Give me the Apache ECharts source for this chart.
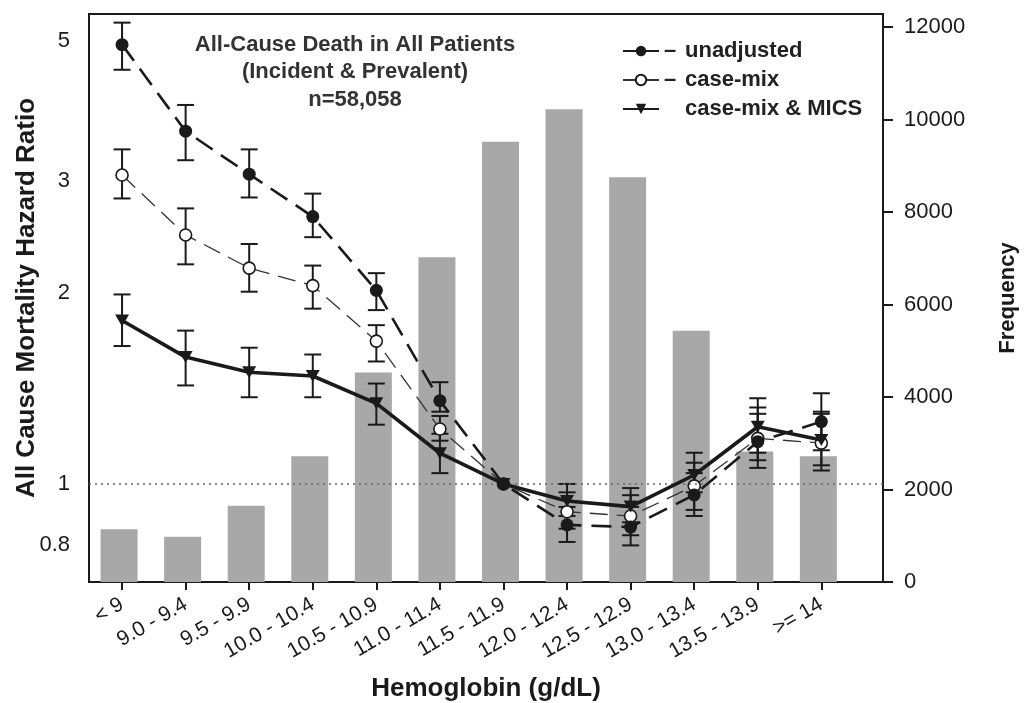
<!DOCTYPE html>
<html>
<head>
<meta charset="utf-8">
<script src="https://cdn.jsdelivr.net/npm/echarts@6/dist/echarts.min.js"></script>
<style>
  html, body { margin: 0; padding: 0; background: #fff; }
  #chart { width: 1027px; height: 703px; }
</style>
</head>
<body>
<div id="chart"></div>
<script>
// Hemoglobin groups (g/dL)
const categories = ['< 9', '9.0 - 9.4', '9.5 - 9.9', '10.0 - 10.4', '10.5 - 10.9', '11.0 - 11.4',
  '11.5 - 11.9', '12.0 - 12.4', '12.5 - 12.9', '13.0 - 13.4', '13.5 - 13.9', '>= 14'];

// Number of patients per group (right axis)
const frequency = [1140, 980, 1650, 2720, 4530, 7020, 9520, 10220, 8750, 5430, 2820, 2720];

// Hazard ratios with 95% confidence limits (11.5 - 11.9 is the reference group)
const unadjusted   = [4.93, 3.60, 3.08, 2.64, 2.02, 1.353, 1.00, 0.862, 0.855, 0.961, 1.166, 1.254];
const unadjustedLo = [4.50, 3.24, 2.83, 2.45, 1.88, 1.30, null, 0.81, 0.80, 0.89, 1.06, 1.13];
const unadjustedHi = [5.34, 3.96, 3.37, 2.87, 2.15, 1.447, null, 0.92, 0.92, 1.04, 1.29, 1.39];

const caseMix   = [3.07, 2.47, 2.19, 2.055, 1.68, 1.221, 1.00, 0.904, 0.890, 0.993, 1.18, 1.16];
const caseMixLo = [2.82, 2.22, 2.01, 1.89, 1.56, 1.17, null, 0.85, 0.83, 0.91, 1.09, 1.05];
const caseMixHi = [3.37, 2.72, 2.39, 2.21, 1.78, 1.28, null, 0.97, 0.96, 1.08, 1.32, 1.29];

const caseMixMics   = [1.81, 1.585, 1.50, 1.48, 1.34, 1.118, 1.00, 0.940, 0.921, 1.033, 1.231, 1.173];
const caseMixMicsLo = [1.65, 1.43, 1.37, 1.37, 1.24, 1.04, null, 0.89, 0.87, 0.97, 1.12, 1.07];
const caseMixMicsHi = [1.99, 1.745, 1.64, 1.60, 1.44, 1.20, null, 1.00, 0.985, 1.12, 1.365, 1.30];

// Axis tick labels
const hrTicks = [0.8, 1, 2, 3, 5];
const freqTicks = [0, 2000, 4000, 6000, 8000, 10000, 12000];

const FONT = '"Liberation Sans", Arial, Helvetica, sans-serif';
const INK = '#1a1a1a';

const idx = categories.map((_, i) => i);
const pairs = vals => vals.map((v, i) => [i, v]);

// Vertical confidence-interval whiskers with caps
function errorBars(name, lo, hi, z) {
  const data = [];
  lo.forEach((l, i) => { if (l != null) data.push([i, l, hi[i]]); });
  return {
    type: 'custom',
    name: name + ' CI',
    xAxisIndex: 0,
    yAxisIndex: 0,
    z: z,
    silent: true,
    encode: { x: 0, y: [1, 2] },
    data: data,
    renderItem(params, api) {
      const x = api.value(0);
      const a = api.coord([x, api.value(1)]);
      const b = api.coord([x, api.value(2)]);
      const w = 8.5;
      const st = { stroke: INK, lineWidth: 2 };
      return {
        type: 'group',
        children: [
          { type: 'line', shape: { x1: a[0], y1: a[1], x2: b[0], y2: b[1] }, style: st },
          { type: 'line', shape: { x1: a[0] - w, y1: a[1], x2: a[0] + w, y2: a[1] }, style: st },
          { type: 'line', shape: { x1: b[0] - w, y1: b[1], x2: b[0] + w, y2: b[1] }, style: st }
        ]
      };
    }
  };
}

const chart = echarts.init(document.getElementById('chart'), null, { renderer: 'canvas' });

chart.setOption({
  backgroundColor: '#fff',
  animation: false,
  textStyle: { fontFamily: FONT },
  title: {
    text: 'All-Cause Death in All Patients\n(Incident & Prevalent)\nn=58,058',
    left: 350,
    top: 26,
    textAlign: 'center',
    textStyle: { fontFamily: FONT, fontSize: 22, fontWeight: 'bold', color: '#333', lineHeight: 27.5 }
  },
  legend: {
    orient: 'vertical',
    left: 617,
    top: 35,
    itemGap: 7,
    itemWidth: 36,
    itemHeight: 13,
    selectedMode: false,
    data: [
      { name: 'unadjusted', lineStyle: { type: 'solid' } },
      { name: 'case-mix', lineStyle: { type: 'solid' } },
      { name: 'case-mix & MICS', lineStyle: { type: 'solid' } }
    ],
    formatter: name => (name === 'case-mix & MICS' ? '{g|}' : '{d|–}') + name,
    textStyle: {
      fontFamily: FONT, fontSize: 22, fontWeight: 'bold', color: '#222',
      rich: {
        d: { fontFamily: FONT, fontSize: 22, fontWeight: 'bold', color: '#222', width: 21 },
        g: { width: 21 }
      }
    }
  },
  grid: {
    left: 89, right: 144, top: 14, bottom: 121,
    outerBoundsMode: 'none',
    containLabel: false,
    show: true, borderColor: INK, borderWidth: 2, backgroundColor: 'transparent'
  },
  xAxis: [
    {
      type: 'value',
      min: -0.52,
      max: 11.97,
      name: 'Hemoglobin (g/dL)',
      nameLocation: 'middle',
      nameGap: 94,
      nameMoveOverlap: false,
      nameTextStyle: { fontFamily: FONT, fontSize: 26, fontWeight: 'bold', color: INK },
      splitLine: { show: false },
      axisLine: { show: true, onZero: false, lineStyle: { color: INK, width: 2 } },
      axisTick: { show: true, customValues: idx, length: 8, lineStyle: { color: INK, width: 2 } },
      axisLabel: {
        customValues: idx,
        formatter: v => categories[Math.round(v)],
        rotate: 30,
        margin: 21,
        fontFamily: FONT, fontSize: 21, color: INK
      }
    },
    {
      // frequency bars sit a few pixels left of the group ticks
      type: 'value',
      min: -0.473,
      max: 12.017,
      show: false,
      splitLine: { show: false }
    }
  ],
  yAxis: [
    {
      type: 'log',
      logBase: 10,
      min: 0.7004,
      max: 5.51,
      position: 'left',
      name: 'All Cause Mortality Hazard Ratio',
      nameLocation: 'middle',
      nameRotate: 90,
      nameGap: 49,
      nameMoveOverlap: false,
      nameTextStyle: { fontFamily: FONT, fontSize: 26, fontWeight: 'bold', color: INK },
      splitLine: { show: false },
      axisLine: { show: true, onZero: false, lineStyle: { color: INK, width: 2 } },
      axisTick: { show: false, customValues: hrTicks },
      axisLabel: {
        customValues: hrTicks,
        formatter: v => String(v),
        margin: 19,
        fontFamily: FONT, fontSize: 22, color: INK
      }
    },
    {
      type: 'value',
      min: 0,
      max: 12281,
      position: 'right',
      name: 'Frequency',
      nameLocation: 'middle',
      nameRotate: 90,
      nameGap: 114,
      nameMoveOverlap: false,
      nameTextStyle: { fontFamily: FONT, fontSize: 22, fontWeight: 'bold', color: INK },
      splitLine: { show: false },
      axisLine: { show: true, onZero: false, lineStyle: { color: INK, width: 2 } },
      axisTick: { show: true, customValues: freqTicks, length: 10, lineStyle: { color: INK, width: 2 } },
      axisLabel: {
        customValues: freqTicks,
        formatter: v => String(v),
        margin: 21,
        fontFamily: FONT, fontSize: 22, color: INK
      }
    }
  ],
  series: [
    {
      type: 'bar',
      name: 'Frequency',
      xAxisIndex: 1,
      yAxisIndex: 1,
      barWidth: 37,
      z: 1,
      silent: true,
      itemStyle: { color: '#a8a8a8' },
      data: pairs(frequency)
    },
    errorBars('case-mix', caseMixLo, caseMixHi, 3),
    errorBars('unadjusted', unadjustedLo, unadjustedHi, 3),
    errorBars('case-mix & MICS', caseMixMicsLo, caseMixMicsHi, 3),
    {
      type: 'line',
      name: 'case-mix',
      xAxisIndex: 0, yAxisIndex: 0,
      z: 4,
      symbol: 'circle',
      symbolSize: 12,
      showAllSymbol: true,
      lineStyle: { color: '#333', width: 1.3, type: [18, 9] },
      itemStyle: { color: '#fff', borderColor: INK, borderWidth: 1.6 },
      data: pairs(caseMix),
      markLine: {
        silent: true,
        symbol: 'none',
        label: { show: false },
        lineStyle: { color: '#666', width: 1.5, type: [2, 4] },
        data: [{ yAxis: 1 }]
      }
    },
    {
      type: 'line',
      name: 'unadjusted',
      xAxisIndex: 0, yAxisIndex: 0,
      z: 5,
      symbol: 'circle',
      symbolSize: 13,
      lineStyle: { color: INK, width: 2.6, type: [20, 10] },
      itemStyle: { color: INK, borderColor: INK, borderWidth: 0 },
      data: pairs(unadjusted)
    },
    {
      type: 'line',
      name: 'case-mix & MICS',
      xAxisIndex: 0, yAxisIndex: 0,
      z: 6,
      symbol: 'triangle',
      symbolRotate: 180,
      symbolSize: [14, 12],
      lineStyle: { color: INK, width: 3.6 },
      itemStyle: { color: INK, borderWidth: 0 },
      data: pairs(caseMixMics)
    }
  ]
});
</script>
</body>
</html>
